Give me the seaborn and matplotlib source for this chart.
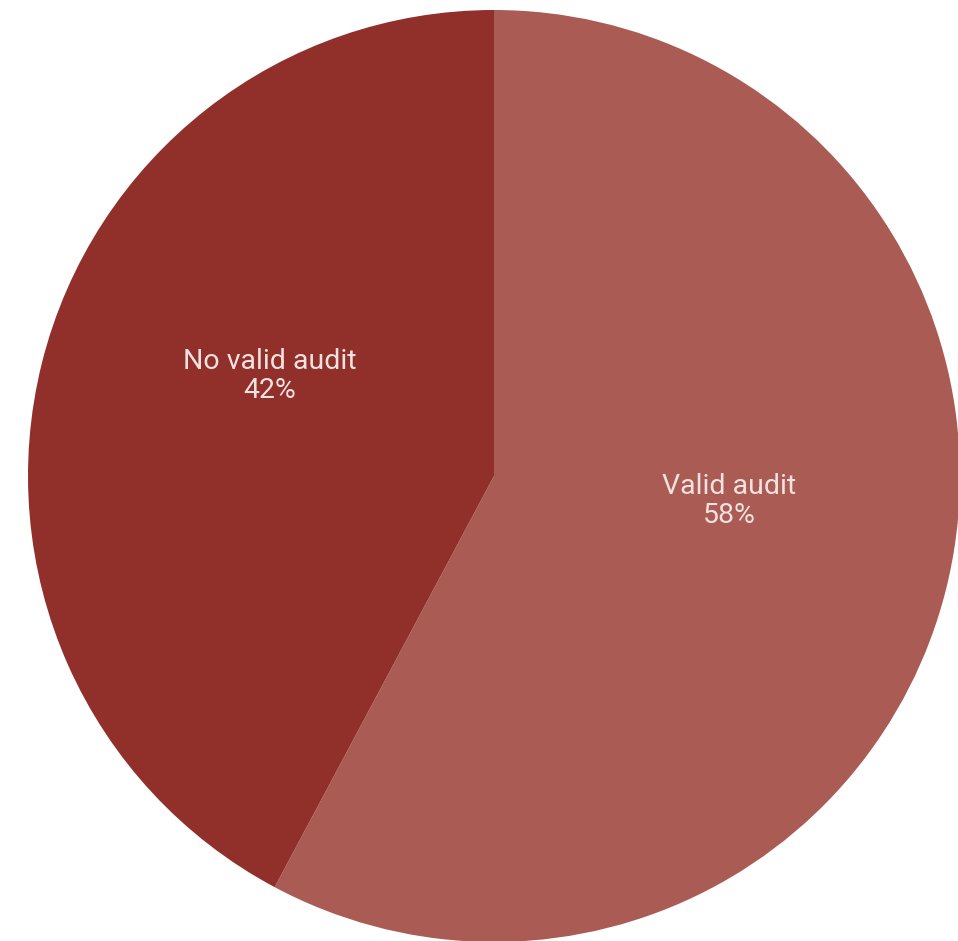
import numpy as np
import matplotlib.pyplot as plt
import seaborn as sns

labels = ["Valid audit", "No valid audit"]
shares = [57.8, 42.2]
pct_text = ["58%", "42%"]
colors = ["#AA5B54", "#912F2A"]

sns.set_theme(style="white")
plt.rcParams["font.family"] = ["Roboto", "DejaVu Sans"]

fig = plt.figure(figsize=(9.58, 9.41), dpi=100)
ax = fig.add_axes([0, 0, 1, 1])

wedges, _ = ax.pie(shares, colors=colors, startangle=90, counterclock=False,
                   radius=1, center=(0, 0), wedgeprops=dict(linewidth=0))

# label anchors sit a little off the wedge bisector, as in the original
nudge = [8, -10]
dist = [0.507, 0.528]
for w, lab, pct, d, r in zip(wedges, labels, pct_text, nudge, dist):
    ang = np.deg2rad((w.theta1 + w.theta2) / 2 + d)
    ax.text(r * np.cos(ang), r * np.sin(ang), f"{lab}\n{pct}",
            ha="center", va="center", fontsize=20.5, fontweight="normal",
            color="#F1E2E0", linespacing=1.12)

ax.set_xlim(-494 / 466, (958 - 494) / 466)
ax.set_ylim(-(941 - 476) / 466, 476 / 466)
ax.set_aspect("equal")
ax.axis("off")

fig.savefig("out.png", dpi=100, facecolor="white")
